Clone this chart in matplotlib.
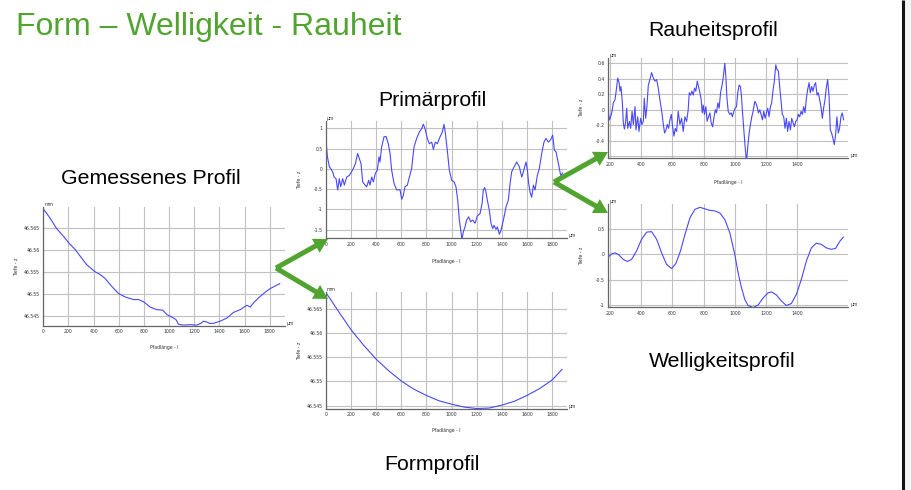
import matplotlib.pyplot as plt
from matplotlib.patches import FancyArrow, Rectangle
from matplotlib.ticker import FuncFormatter

W, H = 911, 490

# --- profile values (x = path length in µm) ---
measured = [(0, 46.5693), (53, 46.5672), (106, 46.5648), (159, 46.5631), (207, 46.5614),
            (252, 46.5601), (292, 46.5586), (345, 46.5566), (412, 46.5550), (451, 46.5544),
            (491, 46.5535), (544, 46.5517), (597, 46.5501), (650, 46.5493), (717, 46.5487),
            (757, 46.5487), (797, 46.5482), (850, 46.5470), (903, 46.5464), (950, 46.5463),
            (982, 46.5453), (1022, 46.5447), (1054, 46.5442), (1075, 46.5431), (1115, 46.5429),
            (1168, 46.5430), (1221, 46.5429), (1253, 46.5433), (1274, 46.5438), (1301, 46.5436),
            (1322, 46.5433), (1354, 46.5433), (1407, 46.5438), (1460, 46.5445), (1513, 46.5458),
            (1566, 46.5464), (1607, 46.5472), (1620, 46.5474), (1646, 46.5470), (1673, 46.5480),
            (1712, 46.5491), (1766, 46.5504), (1805, 46.5512), (1845, 46.5518), (1880, 46.5523)]

form = [(0, 46.5684), (100, 46.5645), (200, 46.5607), (300, 46.5575), (400, 46.5546),
        (500, 46.5522), (600, 46.5501), (700, 46.5484), (800, 46.5471), (900, 46.5460),
        (1000, 46.5453), (1100, 46.5447), (1200, 46.5444), (1300, 46.5445), (1400, 46.5451),
        (1500, 46.5459), (1600, 46.5471), (1700, 46.5485), (1800, 46.5503), (1880, 46.5525)]

primary = [(0, 0.70), (11, 0.30), (27, 0.05), (37, 0.01), (53, -0.07), (64, -0.20), (80, -0.24),
           (93, -0.52), (106, -0.24), (117, -0.44), (133, -0.24), (146, -0.40), (165, -0.20),
           (186, -0.16), (204, -0.07), (218, 0.01), (234, 0.13), (252, 0.38), (266, 0.25),
           (279, 0.13), (292, -0.32), (311, -0.40), (324, -0.44), (340, -0.28), (350, -0.40),
           (364, -0.20), (377, -0.32), (393, -0.11), (409, -0.03), (422, 0.30), (430, 0.17),
           (443, 0.54), (462, 0.79), (478, 0.80), (496, 0.62), (510, 0.38), (523, -0.03),
           (542, -0.36), (563, -0.52), (589, -0.51), (603, -0.75), (616, -0.65), (629, -0.44),
           (648, -0.40), (664, -0.20), (682, 0.01), (701, 0.54), (722, 0.75), (743, 0.91),
           (762, 0.99), (775, 1.10), (789, 0.99), (807, 0.75), (823, 0.62), (842, 0.66),
           (855, 0.48), (871, 0.66), (887, 0.62), (908, 0.79), (927, 0.91), (940, 1.10),
           (951, 0.87), (966, 0.46), (982, -0.03), (1001, -0.28), (1020, -0.32), (1035, -0.44),
           (1049, -0.77), (1062, -1.26), (1073, -1.51), (1083, -1.74), (1094, -1.55),
           (1107, -1.43), (1120, -1.26), (1136, -1.18), (1152, -1.30), (1168, -1.26),
           (1187, -1.34), (1205, -1.16), (1227, -1.10), (1243, -0.85), (1253, -0.52),
           (1264, -0.46), (1274, -0.57), (1285, -0.77), (1301, -1.02), (1314, -1.34),
           (1328, -1.47), (1338, -1.39), (1354, -1.49), (1365, -1.43), (1381, -1.61),
           (1394, -1.51), (1413, -1.26), (1434, -0.93), (1452, -0.77), (1466, -0.36),
           (1479, -0.07), (1498, 0.05), (1519, 0.17), (1540, 0.05), (1559, -0.20), (1572, -0.07),
           (1593, 0.17), (1604, -0.03), (1614, -0.36), (1625, -0.57), (1638, -0.70),
           (1652, -0.40), (1665, -0.52), (1683, -0.16), (1699, 0.01), (1718, 0.38), (1736, 0.66),
           (1752, 0.75), (1771, 0.66), (1789, 0.72), (1805, 0.83), (1819, 0.46), (1832, 0.42),
           (1851, 0.13), (1869, -0.16), (1885, -0.10)]

roughness = [(191, -0.02), (198, -0.13), (206, -0.09), (215, -0.02), (223, 0.09), (234, 0.13),
             (245, 0.30), (251, 0.41), (260, 0.35), (266, 0.24), (272, 0.30), (281, 0.09),
             (287, -0.17), (294, -0.25), (302, -0.15), (309, 0.02), (315, -0.24), (326, -0.15),
             (334, -0.24), (343, -0.02), (351, -0.19), (362, 0.04), (368, -0.26), (379, -0.09),
             (387, -0.28), (398, -0.11), (406, -0.19), (415, -0.15), (421, 0.15), (430, -0.11),
             (438, 0.04), (447, 0.32), (457, 0.39), (468, 0.48), (479, 0.41), (489, 0.37),
             (500, 0.39), (509, 0.30), (521, 0.13), (534, -0.04), (543, -0.19), (551, -0.30),
             (560, -0.26), (568, -0.19), (577, -0.24), (585, -0.13), (594, -0.06), (602, -0.22),
             (611, -0.34), (619, -0.24), (628, -0.28), (638, -0.02), (649, -0.19), (660, -0.11),
             (670, -0.28), (681, -0.09), (692, -0.15), (702, 0.00), (709, 0.22), (717, 0.19),
             (726, 0.24), (734, 0.19), (743, 0.28), (751, 0.24), (760, 0.37), (768, 0.30),
             (777, 0.22), (785, 0.13), (792, -0.04), (798, 0.06), (806, -0.06), (815, 0.04),
             (823, -0.15), (832, -0.09), (841, -0.04), (849, -0.17), (858, -0.22), (866, -0.11),
             (875, 0.00), (883, -0.04), (892, 0.09), (900, 0.02), (909, 0.22), (917, 0.30),
             (926, 0.41), (936, 0.60), (943, 0.43), (949, 0.17), (958, -0.02), (968, -0.06),
             (977, -0.04), (985, -0.09), (994, -0.02), (1002, 0.02), (1011, 0.04), (1019, 0.22),
             (1028, 0.32), (1036, 0.30), (1043, 0.17), (1049, -0.02), (1058, -0.26), (1066, -0.48),
             (1075, -0.67), (1083, -0.48), (1092, -0.30), (1100, -0.19), (1109, -0.09),
             (1117, -0.02), (1128, 0.11), (1134, 0.09), (1143, 0.04), (1151, -0.04), (1160, 0.00),
             (1168, -0.06), (1177, -0.13), (1185, -0.02), (1194, -0.11), (1202, -0.04),
             (1211, 0.02), (1219, -0.09), (1228, 0.04), (1236, 0.09), (1245, 0.26), (1253, 0.37),
             (1262, 0.58), (1270, 0.52), (1279, 0.50), (1287, 0.30), (1296, 0.11), (1304, -0.06),
             (1313, -0.09), (1321, -0.24), (1330, -0.11), (1338, -0.28), (1347, -0.15),
             (1356, -0.26), (1364, -0.11), (1373, -0.17), (1381, -0.22), (1390, -0.15),
             (1398, -0.13), (1407, -0.06), (1415, -0.09), (1424, -0.02), (1432, -0.06),
             (1441, 0.04), (1449, -0.04), (1458, 0.15), (1466, 0.26), (1475, 0.35), (1483, 0.22),
             (1492, 0.30), (1500, 0.24), (1509, 0.32), (1517, 0.35), (1526, 0.19), (1534, 0.22),
             (1543, 0.13), (1551, 0.04), (1560, -0.11), (1568, 0.02), (1577, 0.13), (1585, 0.28),
             (1594, 0.39), (1603, 0.17), (1611, -0.26), (1619, -0.30), (1628, -0.37),
             (1636, -0.45), (1645, -0.32), (1653, -0.09), (1662, -0.30), (1670, -0.24),
             (1679, -0.09), (1687, -0.04), (1696, -0.13)]

waviness = [(191, -0.05), (213, 0.01), (234, 0.03), (255, 0.00), (287, -0.10), (313, -0.14),
            (340, -0.10), (372, 0.07), (404, 0.30), (436, 0.44), (468, 0.45), (500, 0.30),
            (532, 0.03), (564, -0.20), (596, -0.28), (623, -0.18), (653, 0.07), (681, 0.39),
            (713, 0.72), (745, 0.89), (777, 0.93), (809, 0.90), (841, 0.87), (872, 0.86),
            (904, 0.82), (936, 0.69), (968, 0.43), (1000, 0.00), (1021, -0.36), (1043, -0.66),
            (1064, -0.89), (1085, -1.01), (1117, -1.05), (1149, -1.00), (1181, -0.86),
            (1213, -0.76), (1234, -0.74), (1266, -0.80), (1298, -0.92), (1330, -1.01),
            (1362, -0.97), (1394, -0.79), (1426, -0.49), (1458, -0.13), (1490, 0.13),
            (1521, 0.22), (1553, 0.20), (1585, 0.13), (1617, 0.10), (1645, 0.12), (1672, 0.26),
            (1694, 0.34)]

full_xticks = list(range(0, 2000, 200))
cut_xticks = list(range(200, 1600, 200))
mm_yticks = [46.545, 46.55, 46.555, 46.56, 46.565]

BLUE = '#4848ff'
GREEN = '#52a430'
FONT = 'Liberation Sans'

fig = plt.figure(figsize=(W / 100, H / 100), dpi=100)
fig.patch.set_facecolor('white')
fmt = FuncFormatter(lambda v, p: '%g' % round(v, 6))


def px_axes(left, top, right, bottom):
    # place an axes by its pixel box on the slide
    return fig.add_axes([left / W, 1 - bottom / H, (right - left) / W, (bottom - top) / H])


def profile(ax, pts, xlim, ylim, xticks, yticks, yunit, xlab=True, xlab_y=-0.17):
    x, y = zip(*pts)
    ax.plot(x, y, color=BLUE, lw=0.8)
    ax.set_xlim(xlim)
    ax.set_ylim(ylim)
    ax.set_xticks(xticks)
    ax.set_yticks(yticks)
    ax.xaxis.set_major_formatter(fmt)
    ax.yaxis.set_major_formatter(fmt)
    ax.tick_params(length=0, labelsize=3.3, labelcolor='#333333', pad=2.5)
    ax.grid(True, color='#c0c0c0', lw=0.8)
    ax.set_axisbelow(True)
    for s in ['top', 'right']:
        ax.spines[s].set_visible(False)
    for s in ['left', 'bottom']:
        ax.spines[s].set_color('#666666')
        ax.spines[s].set_linewidth(0.9)
    ax.set_ylabel('Tiefe - z', fontsize=3.3, color='#333333')
    ax.yaxis.set_label_coords(-0.1, 0.5)
    if xlab:
        ax.set_xlabel('Pfadlänge - l', fontsize=3.3, color='#333333')
        ax.xaxis.set_label_coords(0.5, xlab_y)
    ax.text(0.004, 1.0, yunit, transform=ax.transAxes, ha='left', va='bottom',
            fontsize=3.3, color='#333333')
    ax.text(1.008, 0.0, 'µm', transform=ax.transAxes, ha='left', va='bottom',
            fontsize=3.3, color='#333333')


ax1 = px_axes(43.3, 207, 285, 326)
profile(ax1, measured, (0, 1922), (46.5427, 46.5697), full_xticks, mm_yticks, 'mm', xlab_y=-0.16)

ax2 = px_axes(326, 121, 566.7, 238.3)
profile(ax2, primary, (0, 1917), (-1.71, 1.18), full_xticks, [-1.5, -1, -0.5, 0, 0.5, 1], 'µm',
        xlab_y=-0.176)

ax3 = px_axes(326, 291.7, 566.7, 409)
profile(ax3, form, (0, 1917), (46.5443, 46.5686), full_xticks, mm_yticks, 'mm', xlab_y=-0.16)

ax4 = px_axes(608.3, 58.3, 848.3, 158.3)
profile(ax4, roughness, (191, 1726), (-0.627, 0.665), cut_xticks,
        [-0.6, -0.4, -0.2, 0, 0.2, 0.4, 0.6], 'µm', xlab_y=-0.217)

ax5 = px_axes(608.3, 204.3, 848.3, 307.3)
profile(ax5, waviness, (191, 1726), (-1.045, 0.99), cut_xticks, [-1, -0.5, 0, 0.5], 'µm',
        xlab=False)

# overlay in slide pixels for title, captions, arrows and the frame line
ov = fig.add_axes([0, 0, 1, 1])
ov.set_xlim(0, W)
ov.set_ylim(H, 0)
ov.axis('off')
ov.set_zorder(10)
ov.patch.set_visible(False)

ov.text(16, 34.5, 'Form – Welligkeit - Rauheit', color=GREEN, fontsize=23,
        family=FONT, ha='left', va='baseline')
captions = [('Rauheitsprofil', 713, 30), ('Primärprofil', 432, 100),
            ('Gemessenes Profil', 151, 178), ('Formprofil', 432, 464),
            ('Welligkeitsprofil', 722, 361)]
for txt, cx, cy in captions:
    ov.text(cx, cy, txt, fontsize=15.3, family=FONT, ha='center', va='center', color='black')

arrows = [((276, 268), (328, 239)), ((276, 268), (328, 299)),
          ((554, 182), (608, 152)), ((554, 182), (608, 213))]
for (x0, y0), (x1, y1) in arrows:
    ov.add_patch(FancyArrow(x0, y0, x1 - x0, y1 - y0, width=5, head_width=16,
                            head_length=14, length_includes_head=True,
                            color=GREEN, lw=0))

ov.add_patch(Rectangle((904.5, 0), W - 904.5, H, color='#f5f5f5', lw=0))
ov.plot([903, 903], [0, H], color='#151515', lw=2.2, solid_capstyle='butt')

fig.savefig('out.png', dpi=100)
